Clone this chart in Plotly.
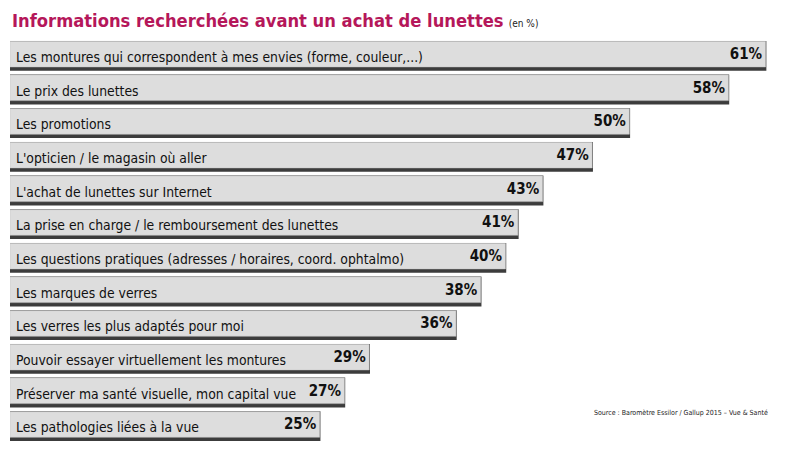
import plotly.graph_objects as go

categories = [
    "Les montures qui correspondent à mes envies (forme, couleur,...)",
    "Le prix des lunettes",
    "Les promotions",
    "L'opticien / le magasin où aller",
    "L'achat de lunettes sur Internet",
    "La prise en charge / le remboursement des lunettes",
    "Les questions pratiques (adresses / horaires, coord. ophtalmo)",
    "Les marques de verres",
    "Les verres les plus adaptés pour moi",
    "Pouvoir essayer virtuellement les montures",
    "Préserver ma santé visuelle, mon capital vue",
    "Les pathologies liées à la vue",
]
values = [61, 58, 50, 47, 43, 41, 40, 38, 36, 29, 27, 25]
value_labels = [f"{v}%" for v in values]

title_text = "Informations recherchées avant un achat de lunettes"
unit_text = "(en %)"
source_text = "Source : Baromètre Essilor / Gallup 2015 – Vue & Santé"

FONT = "DejaVu Sans Condensed"

fig = go.Figure()
# shadow bar (dark bottom / right edge)
fig.add_trace(go.Bar(
    y=categories, x=values, orientation="h",
    width=0.84, offset=-0.42,
    marker=dict(color="#3c3c3c", line=dict(color="#3c3c3c", width=1.5)),
    hoverinfo="skip", showlegend=False,
))
# face bar (light)
fig.add_trace(go.Bar(
    y=categories, x=values, orientation="h",
    width=0.76, offset=-0.43,
    marker=dict(color="#dddddd", line=dict(color="#c4c4c4", width=0.5)),
    text=value_labels, textposition="inside", insidetextanchor="end",
    textfont=dict(family=FONT, size=15, color="#111111", weight="bold"),
    constraintext="none",
    hoverinfo="skip", showlegend=False,
))

annotations = []
for c in categories:
    annotations.append(dict(
        x=0, y=c, xref="x", yref="y", text=c, showarrow=False,
        xanchor="left", yanchor="middle", xshift=4, yshift=-1,
        font=dict(family=FONT, size=13.8, color="#111111"),
    ))
annotations.append(dict(
    x=0.0, y=1.0, xref="paper", yref="paper", yanchor="middle", xanchor="left",
    xshift=0, yshift=19, showarrow=False,
    text=f"<b>{title_text}</b> <span style='font-size:10px;color:#222'>{unit_text}</span>",
    font=dict(family=FONT, size=18.2, color="#b5175a"),
))
annotations.append(dict(
    x=0.99, y=0.074, xref="paper", yref="paper", xanchor="right", yanchor="middle",
    showarrow=False, text=source_text,
    font=dict(family=FONT, size=7, color="#222222"),
))

fig.update_layout(
    width=789, height=454,
    margin=dict(l=2, r=19, t=31, b=19),
    paper_bgcolor="white", plot_bgcolor="white",
    barmode="overlay",
    xaxis=dict(range=[0, 62], visible=False, fixedrange=True),
    yaxis=dict(categoryorder="array", categoryarray=categories, autorange="reversed",
               visible=False, fixedrange=True),
    annotations=annotations,
    font=dict(family=FONT),
)

fig.write_html("out.html")
